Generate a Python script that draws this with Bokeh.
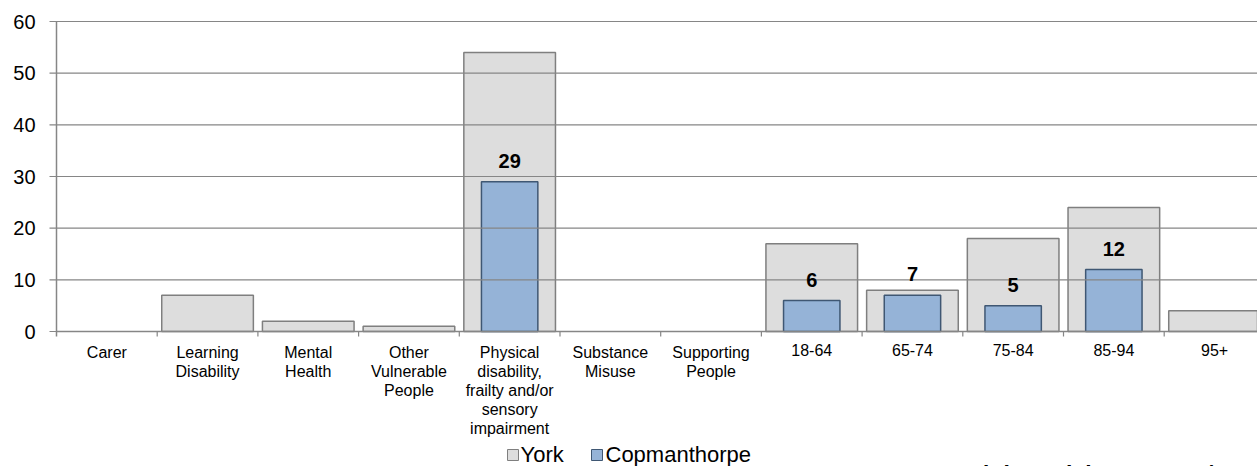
from bokeh.plotting import figure
from bokeh.models import ColumnDataSource, Range1d
from bokeh.core.properties import value
from bokeh.embed import file_html
from bokeh.resources import INLINE

categories = ["Carer", "Learning\nDisability", "Mental\nHealth", "Other\nVulnerable\nPeople",
              "Physical\ndisability,\nfrailty and/or\nsensory\nimpairment", "Substance\nMisuse",
              "Supporting\nPeople", "18-64", "65-74", "75-84", "85-94", "95+"]
york = [0, 7, 2, 1, 54, 0, 0, 17, 8, 18, 24, 4]
copmanthorpe = [0, 0, 0, 0, 29, 0, 0, 6, 7, 5, 12, 0]
y_ticks = [0, 10, 20, 30, 40, 50, 60]
series_names = ["York", "Copmanthorpe"]
source_note = "Source: Adult Social Care 2014/2015"

FONT = value("Liberation Sans")
GRID = "#868686"
YORK_FILL, YORK_LINE = "#dddddd", "#7f7f7f"
COP_FILL, COP_LINE = "#95b3d7", "#3f5773"

# canvas geometry (pixels)
W, H = 1257, 466
X0, CAT_W = 56.0, 100.7        # y-axis position, category width
Y0, Y60 = 331.0, 21.0          # pixel rows of value 0 and 60
SY = (Y0 - Y60) / 60.0         # px per value unit

def dx(px):   # pixel offset -> x data units
    return px / CAT_W

def dy(px):   # pixel offset -> y data units
    return px / SY

n = len(categories)
centers = [i + 0.5 for i in range(n)]
york_src = ColumnDataSource(dict(x=[c for c, v in zip(centers, york) if v > 0],
                                 top=[v for v in york if v > 0]))
cop_src = ColumnDataSource(dict(x=[c for c, v in zip(centers, copmanthorpe) if v > 0],
                                top=[v for v in copmanthorpe if v > 0],
                                lab=[str(v) for v in copmanthorpe if v > 0]))

p = figure(width=W, height=H, output_backend="svg", toolbar_location=None,
           x_axis_type=None, y_axis_type=None,
           x_range=Range1d(-dx(X0), dx(W - X0)), y_range=Range1d(-dy(H - Y0), 60 + dy(Y60)),
           min_border=0, min_border_left=0, min_border_right=0, min_border_top=0,
           min_border_bottom=0)
p.outline_line_color = None
p.grid.visible = False

# bars
p.vbar(x="x", top="top", width=0.91, source=york_src, fill_color=YORK_FILL,
       line_color=YORK_LINE, line_width=1.5)
p.vbar(x="x", top="top", width=0.56, source=cop_src, fill_color=COP_FILL,
       line_color=COP_LINE, line_width=1.5)

# horizontal gridlines (drawn over bars, as in the reference) + y ticks
p.segment(x0=[-dx(7)] * len(y_ticks), y0=y_ticks, x1=[n] * len(y_ticks), y1=y_ticks,
          line_color=GRID, line_width=1.2)
# y axis line
p.segment(x0=[0], y0=[-dy(5)], x1=[0], y1=[y_ticks[-1]], line_color=GRID, line_width=1.5)
# x axis line and category boundary ticks
p.segment(x0=[0], y0=[0], x1=[n], y1=[0], line_color=GRID, line_width=1.5)
p.segment(x0=list(range(1, n + 1)), y0=[0] * n, x1=list(range(1, n + 1)), y1=[-dy(5)] * n,
          line_color=GRID, line_width=1.2)

# y tick labels
p.text(x=[-dx(21)] * len(y_ticks), y=y_ticks, text=[str(v) for v in y_ticks],
       text_font=FONT, text_font_size="20px", text_align="right", text_baseline="middle",
       text_color="black")

# category labels
p.text(x=centers, y=[-dy(12)] * n, text=categories, text_font=FONT, text_font_size="16px",
       text_align="center", text_baseline="top", text_line_height=1.13, text_color="black")

# value labels on Copmanthorpe bars
p.text(x="x", y="top", text="lab", source=cop_src, text_font=FONT,
       text_font_size="20px", text_font_style="bold", text_align="center",
       text_baseline="middle", y_offset=-21, text_color="black")

# legend
leg_sq_px = [512.5, 596.5]
leg_tx_px = [520.0, 605.0]
p.rect(x=[dx(v - X0) for v in leg_sq_px], y=[-dy(454.5 - Y0)] * 2, width=11, height=11,
       width_units="screen", height_units="screen", fill_color=[YORK_FILL, COP_FILL],
       line_color=[YORK_LINE, COP_LINE], line_width=1)
p.text(x=[dx(v - X0) for v in leg_tx_px], y=[-dy(453.5 - Y0)] * 2, text=series_names,
       text_font=FONT, text_font_size="22px", text_baseline="middle", text_color="black")

# source note (cut off by the lower edge, as in the reference)
p.text(x=[dx(867 - X0)], y=[-dy(461 - Y0)], text=[source_note], text_font=FONT,
       text_font_size="23px", text_font_style="bold", text_baseline="top", text_color="black")

open("out.html", "w").write(file_html(p, INLINE))
